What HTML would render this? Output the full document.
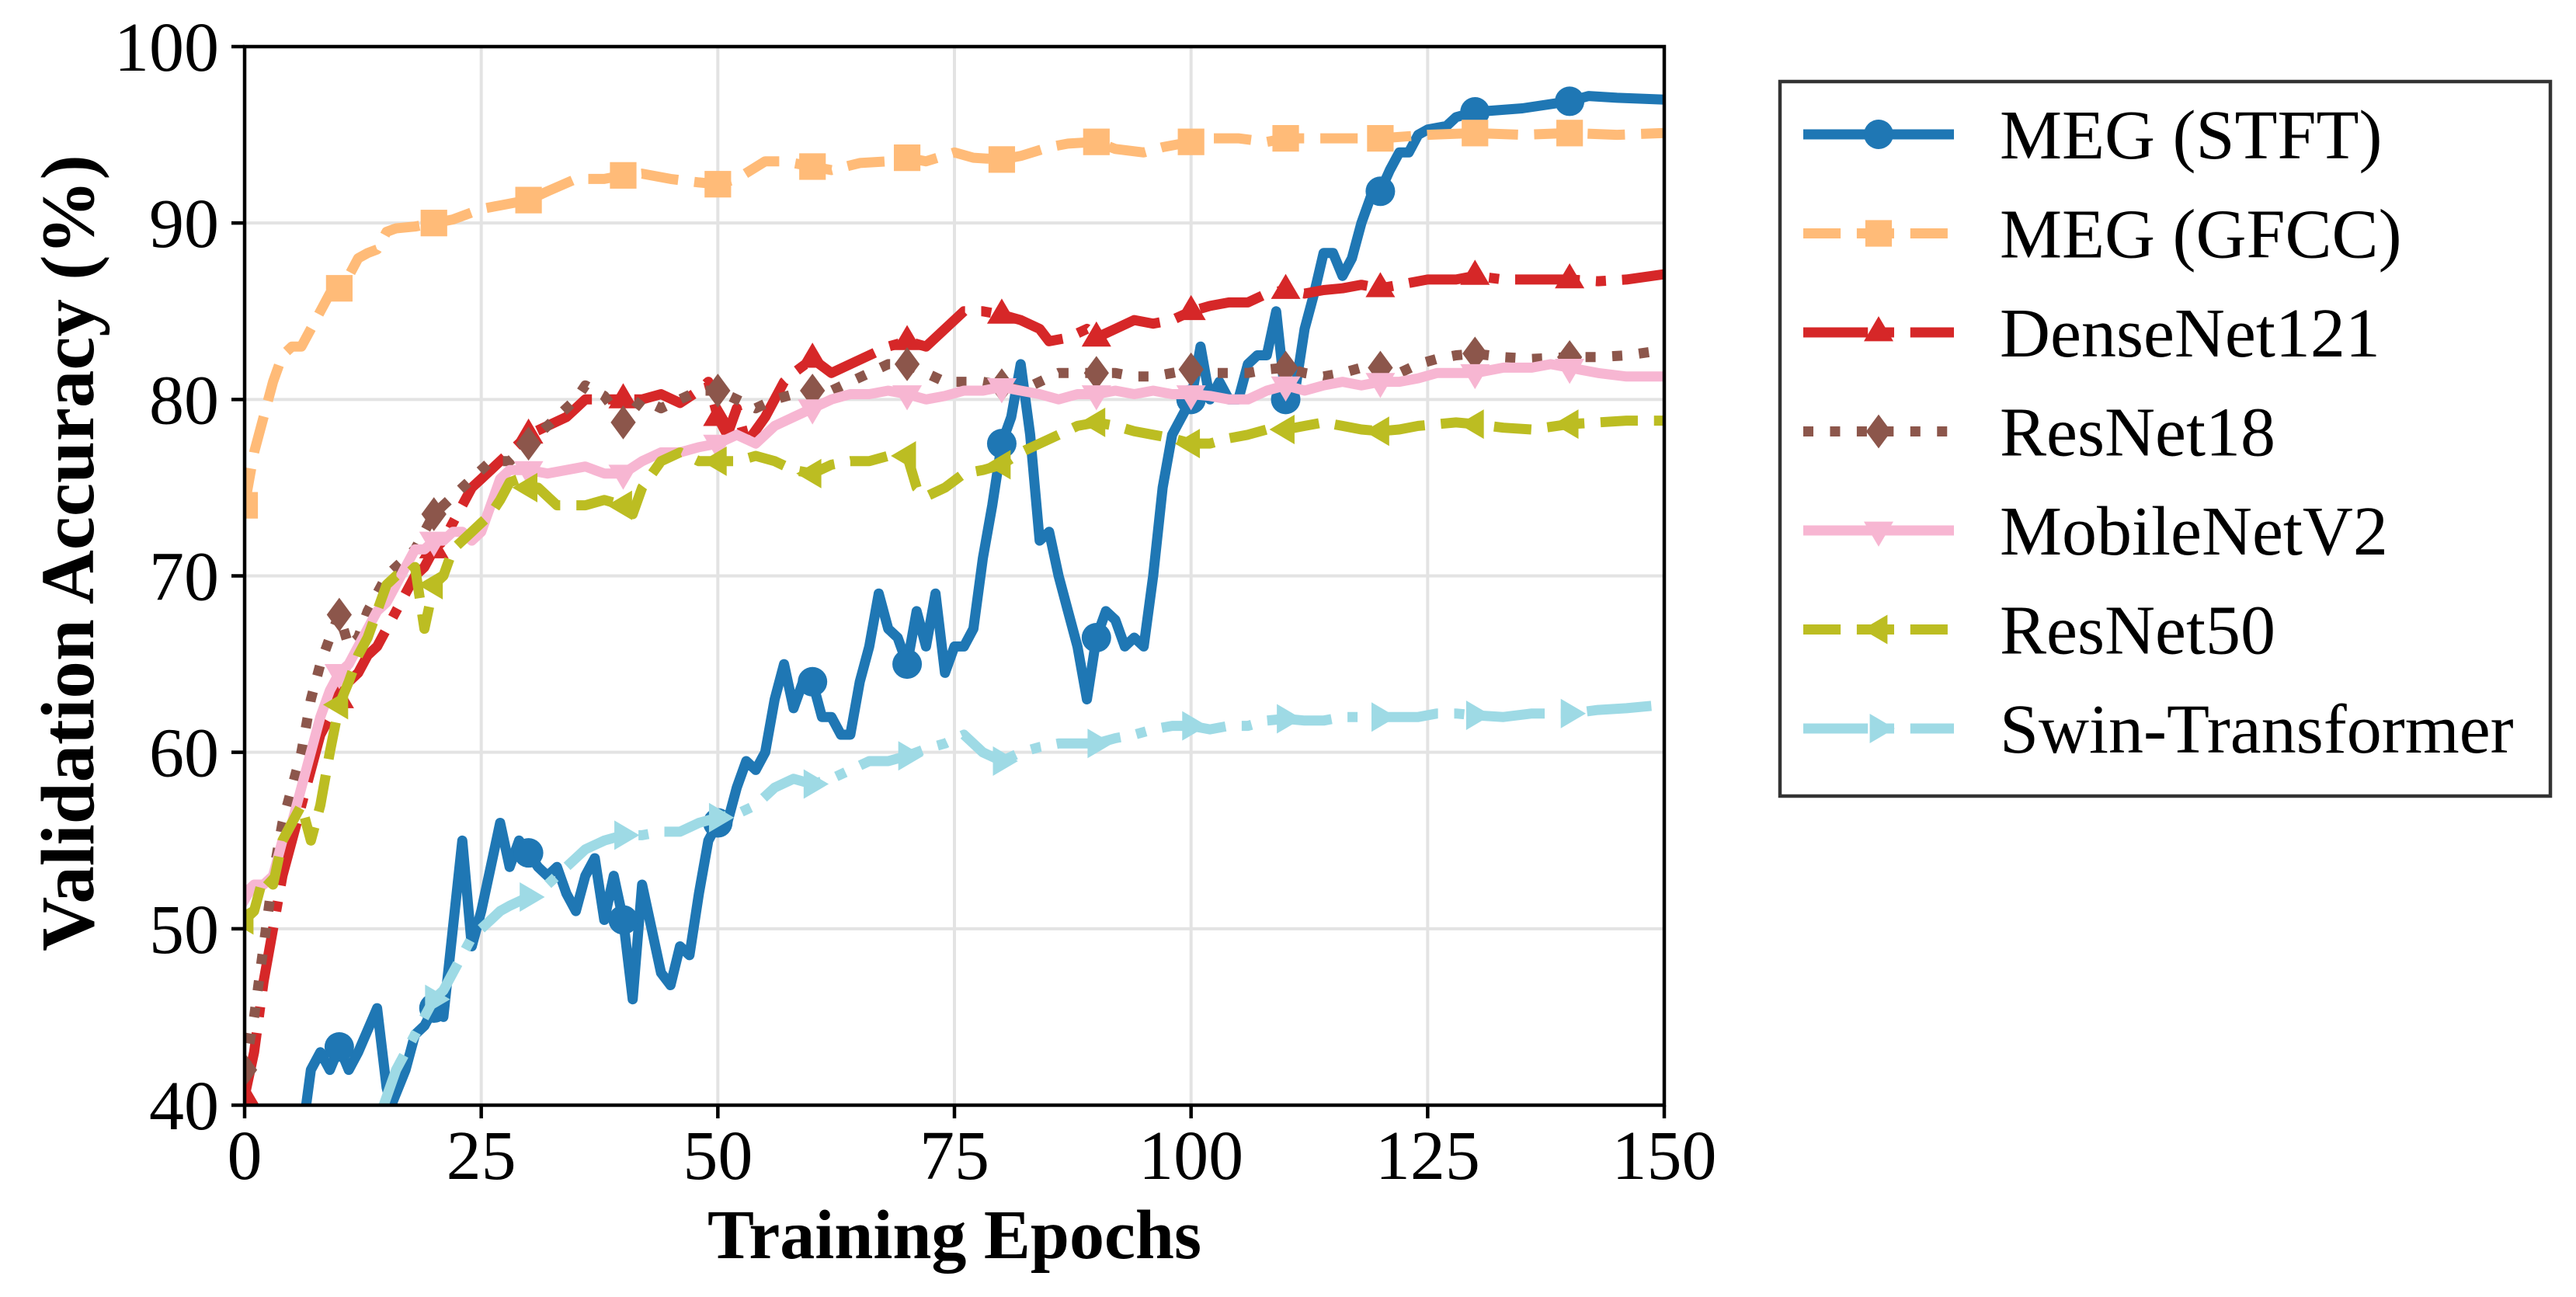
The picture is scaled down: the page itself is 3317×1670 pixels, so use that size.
<!DOCTYPE html>
<html><head><meta charset="utf-8"><style>
html,body{margin:0;padding:0;background:#fff;}
svg{display:block;font-family:"Liberation Serif",serif;}
</style></head><body>
<svg id="chart" width="3317" height="1670" viewBox="0 0 3317 1670" xmlns="http://www.w3.org/2000/svg">
<defs><clipPath id="plotclip"><rect x="315" y="60" width="1828" height="1363"/></clipPath></defs>
<g id="grid"></g>
<g id="series" clip-path="url(#plotclip)"></g>
<g id="axes"></g>
<text x="1229" y="1620" font-size="90" font-weight="bold" text-anchor="middle">Training Epochs</text>
<text transform="translate(120,712) rotate(-90)" font-size="97" font-weight="bold" text-anchor="middle">Validation Accuracy (%)</text>
<g id="legend"></g>
</svg>
<script>
const xTicks = [0,25,50,75,100,125,150];
const yTicks = [40,50,60,70,80,90,100];
const seriesNames = ["MEG (STFT)","MEG (GFCC)","DenseNet121","ResNet18","MobileNetV2","ResNet50","Swin-Transformer"];

const stftEpochs = [0,3,6,6.5,7,8,9,10,11,12,14,15,15.5,17,18,19,20,21,22,23,24,25,26,27,28,29,30,31,32,33,34,35,36,37,38,39,40,41,42,43,44,45,46,47,48,49,50,51,52,53,54,55,56,57,58,59,60,61,62,63,64,65,66,67,68,69,70,71,72,73,74,75,76,77,78,79,80,81,82,83,84,85,86,87,88,89,90,91,92,93,94,95,96,97,98,99,100,101,102,103,104,105,106,107,108,109,110,111,112,113,114,115,116,117,118,119,120,121,122,123,124,125,127,128,130,135,140,142,145,150];
const stftValues = [35,37,39,40,42,43,42,43.3,42,43,45.5,41,40,42,44,44.5,45.5,45,50,55,49,51,53.5,56,53.5,55,54.3,53.5,53,53.5,52,51,53,54,50.5,53,50.5,46,52.5,50,47.5,46.8,49,48.5,52,55,56,56,58,59.5,59,60,63,65,62.5,64,64,62,62,61,61,64,66,69,67,66.5,65,68,66,69,64.5,66,66,67,71,74,77.5,79,82,78,72,72.5,70,68,66,63,66.5,68,67.5,66,66.5,66,70,75,78,79,80,83,80,81,80,80,82,82.5,82.5,85,80,80.5,84,86,88.3,88.3,87,88,90,91.5,91.8,93,94,94,95,95.3,95.5,96,96.3,96.5,96.9,97.2,97.1,97];

const gfccEpochs = [0,1,2,3,4,5,6,7,8,9,10,11,12,13,14,15,16,18,20,22,25,27,30,32,35,38,40,42,45,48,50,52,55,57,60,62,65,68,70,72,75,77,80,82,85,87,90,92,95,97,100,102,105,108,110,113,115,120,125,130,135,140,145,150];
const gfccValues = [74,77,79,81,82.5,83,83,84,85,86,86.3,87,88,88.3,88.5,89.5,89.7,89.8,90,90.2,90.8,91,91.3,91.8,92.5,92.5,92.7,92.8,92.5,92.3,92.2,92.5,93.5,93.5,93.2,93,93.4,93.5,93.7,93.5,94,93.7,93.6,93.8,94.3,94.5,94.6,94.2,94,94.3,94.6,94.8,94.8,94.6,94.8,94.8,94.8,94.8,95,95.1,95,95.1,95,95.1];

const denseEpochs = [0,1,2,3,4,5,6,7,8,9,10,11,12,13,14,15,16,17,18,19,20,21,22,23,24,25,26,27,28,30,32,34,35,36,38,40,42,44,46,48,49,50,51,52,53,55,57,58,60,62,64,66,68,70,72,74,76,78,80,82,84,85,87,89,90,92,94,96,98,100,102,104,106,108,110,112,114,116,118,120,122,125,128,130,133,136,140,143,146,150];
const denseValues = [40.5,43,47,50,53,55,57,59,61,62,63,64,64.5,65.5,66,67,68,69,70,70.5,71.5,72,73,74,75,75.5,76,76.5,77,78,78.5,79,79.5,80,80,80,80,80.3,79.8,80.5,81,79,78,79.5,77.5,79,81,81.5,82.3,81.5,82,82.5,83,83.3,83,84,85,85,84.8,84.5,84,83.3,83.5,84,83.5,84,84.5,84.3,84.5,85,85.3,85.5,85.5,86,86.2,86,86.2,86.3,86.5,86.3,86.5,86.8,86.8,87,86.8,86.8,86.8,86.7,86.8,87.1];

const r18Epochs = [0,1,2,3,4,5,6,7,8,9,10,11,12,13,14,15,16,17,18,19,20,21,22,23,24,25,26,27,28,30,32,34,35,36,37,38,40,42,44,46,48,50,52,54,56,58,60,62,64,66,68,70,72,74,76,78,80,82,84,86,88,90,92,94,96,98,100,102,104,106,108,110,112,114,116,118,120,122,124,126,128,130,133,136,140,143,146,150];
const r18Values = [42,45,49,53,56,58,60,63,65,66.5,67.8,66,66.5,68,69,70,70.5,71,71.5,72.5,73.5,74,74.5,75,75.5,76,76.5,76.5,76.5,77.5,78.5,79.5,80,80.8,80.5,80.2,78.7,80,79.5,80,80.5,80.5,80,79.5,80,80.3,80.5,80.5,81,81.5,82,82,81.5,81,81,81,80.8,80.5,81,81.5,81.5,81.5,81.5,81.3,81.3,81.5,81.7,81.5,81.5,81.5,81.7,81.8,81.5,81.3,81.5,81.8,81.8,81.5,82,82.3,82.5,82.6,82.4,82.3,82.4,82.4,82.5,82.8];

const mobEpochs = [0,1,2,3,4,5,6,7,8,9,10,11,12,13,14,15,16,17,18,19,20,21,22,23,24,25,26,27,28,29,30,32,34,36,38,40,42,44,46,48,50,52,54,56,58,60,62,64,66,68,70,72,74,76,78,80,82,84,86,88,90,92,94,96,98,100,102,104,106,108,110,112,114,116,118,120,122,124,126,128,130,133,136,138,140,143,146,150];
const mobValues = [52,52.5,52.5,53,55,56,58,60,62,63.5,64.5,65,66,67,68,68.5,69.5,70.5,71.5,71.5,72,72,72.5,72.5,72,72.5,74,75.5,76,76,76,75.8,76,76.2,75.8,75.8,76.5,77,77,77.3,77.5,78,77.5,78.5,79,79.5,80,80.3,80.3,80.5,80.3,80,80.2,80.5,80.5,80.7,80.5,80.3,80,80.3,80.3,80.5,80.3,80.5,80.3,80.3,80.2,80,80,80.5,80.8,80.5,80.8,81,80.8,81,81,81.2,81.5,81.5,81.5,81.8,81.8,82,81.8,81.5,81.3,81.3];

const r50Epochs = [0,1,2,3,4,5,6,7,8,9,10,11,12,13,14,15,16,17,18,19,20,21,22,23,24,25,26,27,28,29,30,31,32,33,34,36,38,40,41,42,44,46,48,50,52,54,56,58,60,62,64,66,68,70,71,72,74,76,78,80,82,84,86,88,90,92,94,96,98,100,102,104,106,108,110,112,114,116,118,120,122,124,126,128,130,133,136,140,143,146,150];
const r50Values = [50.5,51,53,52.5,55,56,57,55,57,60,62.7,64,65.5,66.5,68,69.5,70,70,70.5,67,69.5,70,71.5,72,72.5,73,73.5,74.3,75.3,75.5,75,75,74.5,74,74,74,74.3,74,73.5,75,76.5,77,76.5,76.5,76.5,76.8,76.5,76,75.8,76.3,76.5,76.5,76.8,76.8,75,74.5,75,75.8,76,76.3,77,77.5,78,78.5,78.7,78.5,78.2,78,77.8,77.5,77.5,77.8,78,78.3,78.3,78.5,78.7,78.5,78.3,78.2,78.3,78.5,78.6,78.7,78.6,78.4,78.3,78.6,78.7,78.8,78.8];

const swinEpochs = [0,10,14.7,16,17,18,19,20,21,22,24,25,26,27,28,30,32,34,36,38,40,42,44,46,48,50,52,54,56,58,60,62,64,66,68,70,72,74,76,78,80,82,84,86,88,90,92,94,96,98,100,102,104,106,108,110,112,114,116,118,120,122,124,126,128,130,133,136,140,143,146,150];
const swinValues = [30,37,40,42,43,44,45,46,46.5,47.5,49.5,50,50.5,51,51.3,51.8,52.5,53.5,54.5,55,55.3,55.3,55.5,55.5,56,56.3,56.5,57,58,58.5,58.2,58.5,59,59.5,59.5,59.8,60.2,60.5,61,60,59.5,60,60.3,60.5,60.5,60.5,60.8,61,61.3,61.5,61.5,61.3,61.5,61.5,61.8,61.9,61.8,61.8,62,62,62,62,62,62.2,62.2,62.1,62,62.2,62.2,62.4,62.5,62.7];

const markerEpochs = [0,10,20,30,40,50,60,70,80,90,100,110,120,130,140];

const NS = "http://www.w3.org/2000/svg";
const X0 = 315, X1 = 2143, Y0 = 1423, Y1 = 60;
function xs(e){ return X0 + (e - 0) / 150 * (X1 - X0); }
function ys(v){ return Y0 - (v - 40) / 60 * (Y0 - Y1); }
function mk(tag, attrs, parent){ const el = document.createElementNS(NS, tag); for (const k in attrs) el.setAttribute(k, attrs[k]); parent.appendChild(el); return el; }
function interp(ep, va, e){ for (let i=0;i<ep.length-1;i++){ if (e>=ep[i] && e<=ep[i+1]){ const t=(e-ep[i])/(ep[i+1]-ep[i]); return va[i]+t*(va[i+1]-va[i]); } } return va[va.length-1]; }

const grid = document.getElementById('grid');
const axes = document.getElementById('axes');
xTicks.forEach(t => {
  const g = mk('line', {x1:xs(t), x2:xs(t), y1:Y1, y2:Y0, stroke:'#e3e3e3', 'stroke-width':4}, grid);
  
  
  const tk = mk('line', {x1:xs(t), x2:xs(t), y1:Y0, y2:Y0+17, stroke:'#000', 'stroke-width':4.5}, axes);
  
  
  const lb = mk('text', {x:xs(t), y:Y0+95, 'font-size':90, 'text-anchor':'middle'}, axes);
  lb.textContent = t;
  
  
});
yTicks.forEach(t => {
  const g = mk('line', {x1:X0, x2:X1, y1:ys(t), y2:ys(t), stroke:'#e3e3e3', 'stroke-width':4}, grid);
  
  
  const tk = mk('line', {x1:X0-17, x2:X0, y1:ys(t), y2:ys(t), stroke:'#000', 'stroke-width':4.5}, axes);
  
  
  const lb = mk('text', {x:X0-33, y:ys(t)+31, 'font-size':90, 'text-anchor':'end'}, axes);
  lb.textContent = t;
  
  
});
const frame = mk('rect', {x:X0, y:Y1, width:X1-X0, height:Y0-Y1, fill:'none', stroke:'#000', 'stroke-width':4.5}, axes);



const lw = 13;
const styles = [
  {c:'#1f77b4', dash:'', m:'circle'},
  {c:'#ffbb78', dash:(3.7*lw)+' '+(1.6*lw), m:'square'},
  {c:'#d62728', dash:(6.4*lw)+' '+(1.6*lw)+' '+(1*lw)+' '+(1.6*lw), m:'tri-up'},
  {c:'#8c564b', dash:(1*lw)+' '+(1.65*lw), m:'diamond'},
  {c:'#f7b6d2', dash:'', m:'tri-down'},
  {c:'#bcbd22', dash:(3.7*lw)+' '+(1.6*lw), m:'tri-left'},
  {c:'#9edae5', dash:(6.4*lw)+' '+(1.6*lw)+' '+(1*lw)+' '+(1.6*lw), m:'tri-right'}
];
const data = [[stftEpochs,stftValues],[gfccEpochs,gfccValues],[denseEpochs,denseValues],[r18Epochs,r18Values],[mobEpochs,mobValues],[r50Epochs,r50Values],[swinEpochs,swinValues]];
const keys = ['meg-stft','meg-gfcc','densenet121','resnet18','mobilenetv2','resnet50','swin-transformer'];

function marker(type, x, y, color, parent){
  const s = 19;
  let el;
  if (type==='circle') el = mk('circle', {cx:x, cy:y, r:s, fill:color}, parent);
  else if (type==='square') el = mk('rect', {x:x-s*0.9, y:y-s*0.9, width:s*1.8, height:s*1.8, fill:color}, parent);
  else if (type==='diamond') el = mk('polygon', {points:`${x},${y-s*1.15} ${x+s*0.85},${y} ${x},${y+s*1.15} ${x-s*0.85},${y}`, fill:color}, parent);
  else if (type==='tri-up') el = mk('polygon', {points:`${x},${y-s*1.1} ${x+s},${y+s*0.6} ${x-s},${y+s*0.6}`, fill:color}, parent);
  else if (type==='tri-down') el = mk('polygon', {points:`${x},${y+s*1.1} ${x+s},${y-s*0.6} ${x-s},${y-s*0.6}`, fill:color}, parent);
  else if (type==='tri-left') el = mk('polygon', {points:`${x-s*1.1},${y} ${x+s*0.6},${y-s} ${x+s*0.6},${y+s}`, fill:color}, parent);
  else el = mk('polygon', {points:`${x+s*1.1},${y} ${x-s*0.6},${y-s} ${x-s*0.6},${y+s}`, fill:color}, parent);
  return el;
}

const seriesG = document.getElementById('series');
data.forEach((d, i) => {
  const st = styles[i];
  const g = mk('g', {}, seriesG);
  
  
  const pts = d[0].map((e, j) => xs(e).toFixed(1) + ',' + ys(d[1][j]).toFixed(1)).join(' ');
  const attrs = {points:pts, fill:'none', stroke:st.c, 'stroke-width':lw, 'stroke-linejoin':'round'};
  if (st.dash) attrs['stroke-dasharray'] = st.dash;
  const line = mk('polyline', attrs, g);
  
  
  markerEpochs.forEach(e => {
    const v = interp(d[0], d[1], e);
    const m = marker(st.m, xs(e), ys(v), st.c, g);
    
    
  });
});

const legend = document.getElementById('legend');
const box = mk('rect', {x:2292, y:105, width:992, height:920, fill:'#fff', stroke:'#333', 'stroke-width':4.5}, legend);


seriesNames.forEach((n, i) => {
  const y = 173 + i * 127.5;
  const st = styles[i];
  const g = mk('g', {}, legend);
  
  
  const attrs = {x1:2322, x2:2516, y1:y, y2:y, stroke:st.c, 'stroke-width':lw};
  if (st.dash) attrs['stroke-dasharray'] = st.dash;
  mk('line', attrs, g);
  marker(st.m, 2419, y, st.c, g);
  const t = mk('text', {x:2575, y:y+31, 'font-size':90}, g);
  t.textContent = n;
});
</script>
</body></html>
